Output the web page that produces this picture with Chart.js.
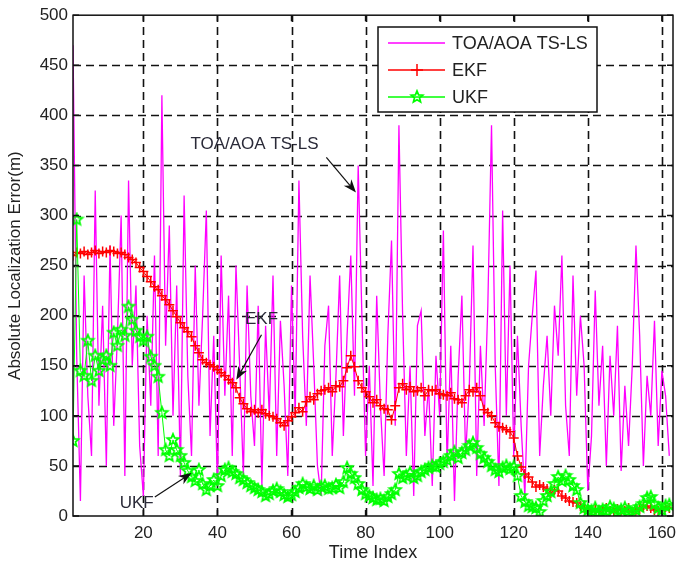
<!DOCTYPE html>
<html>
<head>
<meta charset="utf-8">
<script src="https://cdn.jsdelivr.net/npm/chart.js@4.4.1/dist/chart.umd.min.js"></script>
<style>
  html, body { margin: 0; padding: 0; background: #fff; }
  #wrap { width: 680px; height: 566px; position: relative; }
</style>
</head>
<body>
<div id="wrap"><canvas id="graphique" width="680" height="566"></canvas></div>
<script>
// Ticks des axes
const xTicks = [20, 40, 60, 80, 100, 120, 140, 160];
const yTicks = [0, 50, 100, 150, 200, 250, 300, 350, 400, 450, 500];

// Erreur absolue (m) par index de temps
const toaTsls = [
  470, 160, 15, 240, 120, 60, 325, 110, 210, 50,
  270, 90, 180, 300, 40, 335, 150, 230, 70, 20,
  200, 110, 260, 60, 420, 170, 290, 100, 230, 40,
  320, 140, 60, 250, 110, 200, 305, 80, 180, 30,
  260, 120, 220, 60, 250, 150, 40, 230, 120, 70,
  210, 30, 190, 100, 240, 60, 195, 130, 40, 230,
  100, 335, 180, 90, 240, 150, 50, 20, 170, 210,
  60, 140, 240, 80, 180, 260, 120, 350, 200, 60,
  150, 30, 220, 110, 40, 180, 275, 90, 390, 200,
  60, 150, 20, 190, 205, 80, 130, 30, 160, 100,
  285, 50, 170, 15, 140, 220, 60, 130, 270, 40,
  170, 90, 210, 390, 150, 30, 305, 100, 250, 60,
  180, 90, 20, 150, 200, 245, 60, 130, 180, 100,
  210, 160, 260, 110, 60, 240, 120, 200, 150, 25,
  80, 225, 110, 170, 50, 160, 100, 190, 45, 130,
  70, 150, 270, 180, 50, 140, 100, 195, 70, 145,
  120, 60
];
const ekf = [
  260, 263, 262, 264, 261, 263, 265, 262, 264, 263,
  265, 264, 262, 263, 261, 258, 256, 253, 248, 244,
  239, 234, 229, 226, 220, 216, 211, 205, 199, 193,
  188, 184, 179, 170, 163, 156, 153, 151, 149, 146,
  143, 140, 136, 133, 128, 118, 112, 107, 104, 106,
  103, 106, 102, 100, 99, 97, 93, 90, 95, 99,
  103, 108, 104, 114, 119, 116, 122, 125, 126, 128,
  124, 130, 129, 135, 148, 160, 149, 135, 128, 124,
  119, 113, 116, 110, 107, 106, 96, 110, 128, 132,
  126, 129, 124, 125, 128, 120, 126, 125, 126, 122,
  121, 120, 123, 117, 116, 113, 120, 126, 124, 128,
  120, 106, 103, 100, 93, 89, 88, 86, 84, 78,
  60, 49, 42, 39, 34, 29, 31, 29, 27, 23,
  26, 25, 20, 18, 15, 14, 13, 10, 8, 6,
  5, 7, 4, 6, 8, 5, 4, 7, 6, 5,
  8, 4, 6, 7, 9, 10, 8, 6, 5, 7,
  9, 8
];
const ukf = [
  75, 296, 145, 140, 175, 135, 160, 145, 156, 160,
  150, 183, 170, 186, 180, 209, 196, 185, 179, 175,
  179, 159, 150, 139, 103, 66, 60, 76, 66, 60,
  53, 45, 39, 35, 46, 32, 26, 30, 36, 30,
  40, 46, 48, 44, 42, 38, 36, 33, 30, 28,
  26, 24, 20, 22, 25, 27, 24, 21, 19, 21,
  24, 28, 32, 29, 27, 30, 26, 29, 30, 27,
  28, 31, 28, 34, 48, 42, 38, 32, 26, 22,
  20, 18, 16, 17, 15, 19, 22, 26, 42, 38,
  40, 43, 38, 40, 44, 46, 48, 50, 49, 52,
  54, 56, 60, 64, 58, 63, 66, 70, 73, 68,
  62, 58, 54, 50, 46, 44, 48, 50, 47, 49,
  40, 20, 14, 10, 9, 8, 4, 15, 20, 24,
  32, 39, 35, 40, 36, 30, 26, 13, 8, 6,
  5, 8, 4, 6, 5, 9, 7, 4, 6, 8,
  5, 3, 6, 9, 12, 18, 19, 12, 8, 6,
  10, 11
];

const police = '"Liberation Sans", Arial, Helvetica, sans-serif';
const couleurTexte = '#222';

// index de temps 1..n
function versPoints(valeurs) {
  return valeurs.map((v, i) => ({ x: i + 1, y: v }));
}

// Etoile à 5 branches (marqueur UKF)
function creerEtoile(couleur, r) {
  const c = document.createElement('canvas');
  const s = Math.ceil(2 * r + 4);
  c.width = s; c.height = s;
  const g = c.getContext('2d');
  g.strokeStyle = couleur;
  g.lineWidth = 1.8;
  g.beginPath();
  for (let k = 0; k < 10; k++) {
    const ang = -Math.PI / 2 + k * Math.PI / 5;
    const rr = k % 2 ? r * 0.45 : r;
    g.lineTo(s / 2 + rr * Math.cos(ang), s / 2 + rr * Math.sin(ang));
  }
  g.closePath();
  g.stroke();
  return c;
}
const etoile = creerEtoile('#00ff00', 6);

// Textes + flèches (coordonnées en unités des axes)
const annotations = [
  { texte: 'TOA/AOA TS-LS', tx: 50.0, ty: 371, de: [69.4, 358], vers: [77.4, 323] },
  { texte: 'EKF', tx: 51.9, ty: 196, de: [51.9, 181], vers: [45.1, 136] },
  { texte: 'UKF', tx: 18.2, ty: 13, de: [23.1, 19], vers: [33.0, 43] }
];

// Grille pointillée sous les courbes
const grille = {
  id: 'grille',
  beforeDatasetsDraw(chart) {
    const { ctx, chartArea: a, scales: { x, y } } = chart;
    ctx.save();
    ctx.strokeStyle = '#111';
    ctx.lineWidth = 1.6;
    ctx.setLineDash([8, 5]);
    xTicks.forEach(t => {
      const px = Math.round(x.getPixelForValue(t)) + 0.5;
      ctx.beginPath(); ctx.moveTo(px, a.bottom); ctx.lineTo(px, a.top); ctx.stroke();
    });
    yTicks.forEach(t => {
      if (t === 0 || t === 500) return;
      const py = Math.round(y.getPixelForValue(t)) + 0.5;
      ctx.beginPath(); ctx.moveTo(a.left, py); ctx.lineTo(a.right, py); ctx.stroke();
    });
    ctx.restore();
  }
};

function fleche(ctx, x1, y1, x2, y2) {
  const ang = Math.atan2(y2 - y1, x2 - x1);
  const L = 13, W = 5;
  ctx.beginPath();
  ctx.moveTo(x1, y1);
  ctx.lineTo(x2 - L * 0.7 * Math.cos(ang), y2 - L * 0.7 * Math.sin(ang));
  ctx.stroke();
  ctx.beginPath();
  ctx.moveTo(x2, y2);
  ctx.lineTo(x2 - L * Math.cos(ang) + W * Math.sin(ang), y2 - L * Math.sin(ang) - W * Math.cos(ang));
  ctx.lineTo(x2 - L * 0.7 * Math.cos(ang), y2 - L * 0.7 * Math.sin(ang));
  ctx.lineTo(x2 - L * Math.cos(ang) - W * Math.sin(ang), y2 - L * Math.sin(ang) + W * Math.cos(ang));
  ctx.closePath();
  ctx.fill();
}

// Cadre, petits ticks, annotations et légende
const cadre = {
  id: 'cadre',
  afterDatasetsDraw(chart) {
    const { ctx, chartArea: a, scales: { x, y } } = chart;
    ctx.save();
    ctx.strokeStyle = '#111';
    ctx.fillStyle = '#111';
    ctx.lineWidth = 1.5;
    ctx.setLineDash([]);
    ctx.strokeRect(a.left, a.top, a.right - a.left, a.bottom - a.top);
    const tl = 6;
    xTicks.forEach(t => {
      const px = x.getPixelForValue(t);
      ctx.beginPath();
      ctx.moveTo(px, a.bottom); ctx.lineTo(px, a.bottom - tl);
      ctx.moveTo(px, a.top); ctx.lineTo(px, a.top + tl);
      ctx.stroke();
    });
    yTicks.forEach(t => {
      const py = y.getPixelForValue(t);
      ctx.beginPath();
      ctx.moveTo(a.left, py); ctx.lineTo(a.left + tl, py);
      ctx.moveTo(a.right, py); ctx.lineTo(a.right - tl, py);
      ctx.stroke();
    });

    // annotations
    ctx.font = '17px ' + police;
    ctx.textAlign = 'center';
    ctx.textBaseline = 'middle';
    annotations.forEach(an => {
      ctx.fillStyle = '#2a2a38';
      ctx.fillText(an.texte, x.getPixelForValue(an.tx), y.getPixelForValue(an.ty));
      ctx.strokeStyle = '#111';
      ctx.fillStyle = '#111';
      ctx.lineWidth = 1.2;
      fleche(ctx,
        x.getPixelForValue(an.de[0]), y.getPixelForValue(an.de[1]),
        x.getPixelForValue(an.vers[0]), y.getPixelForValue(an.vers[1]));
    });

    // légende
    const lx = 378, ly = 27, lw = 219, lh = 85;
    ctx.fillStyle = '#fff';
    ctx.fillRect(lx, ly, lw, lh);
    ctx.strokeStyle = '#111';
    ctx.lineWidth = 1.5;
    ctx.strokeRect(lx, ly, lw, lh);
    const entrees = chart.data.datasets;
    const lignesY = [43, 70, 97];
    ctx.font = '18px ' + police;
    ctx.textAlign = 'left';
    entrees.forEach((ds, i) => {
      const yy = lignesY[i];
      ctx.strokeStyle = ds.borderColor;
      ctx.lineWidth = 1.5;
      ctx.beginPath(); ctx.moveTo(388, yy); ctx.lineTo(445, yy); ctx.stroke();
      if (ds.pointStyle === 'cross') {
        ctx.beginPath();
        ctx.moveTo(417, yy - 6); ctx.lineTo(417, yy + 6);
        ctx.moveTo(411, yy); ctx.lineTo(423, yy);
        ctx.stroke();
      } else if (ds.pointStyle instanceof HTMLCanvasElement) {
        const im = ds.pointStyle;
        ctx.drawImage(im, 417 - im.width / 2, yy - im.height / 2);
      }
      ctx.fillStyle = couleurTexte;
      ctx.fillText(ds.label, 452, yy + 1);
    });
    ctx.restore();
  }
};

new Chart(document.getElementById('graphique'), {
  type: 'line',
  data: {
    datasets: [
      {
        label: 'TOA/AOA TS-LS',
        data: versPoints(toaTsls),
        borderColor: '#ff00ff',
        borderWidth: 1.3,
        pointRadius: 0,
        tension: 0,
        order: 3
      },
      {
        label: 'EKF',
        data: versPoints(ekf),
        borderColor: '#ff0000',
        borderWidth: 1,
        pointStyle: 'cross',
        pointRadius: 5,
        pointBorderWidth: 1.5,
        pointBorderColor: '#ff0000',
        tension: 0,
        order: 2
      },
      {
        label: 'UKF',
        data: versPoints(ukf),
        borderColor: '#00ff00',
        borderWidth: 1,
        pointStyle: etoile,
        pointRadius: 6,
        tension: 0,
        order: 1
      }
    ]
  },
  options: {
    responsive: false,
    animation: false,
    devicePixelRatio: 1,
    layout: { padding: { left: 0, right: 0, top: 15, bottom: 0 } },
    plugins: {
      legend: { display: false },
      tooltip: { enabled: false }
    },
    scales: {
      x: {
        type: 'linear',
        min: 1,
        max: 163,
        afterBuildTicks: s => { s.ticks = xTicks.map(v => ({ value: v })); },
        afterFit: s => { s.height = 50; s.paddingRight = 5; },
        grid: { display: false, drawTicks: false },
        border: { display: false },
        ticks: {
          padding: 7,
          autoSkip: false,
          maxRotation: 0,
          color: couleurTexte,
          font: { family: police, size: 17 }
        },
        title: {
          display: true,
          text: 'Time Index',
          color: couleurTexte,
          font: { family: police, size: 18 },
          padding: { top: 0, bottom: 2 }
        }
      },
      y: {
        min: 0,
        max: 500,
        afterBuildTicks: s => { s.ticks = yTicks.map(v => ({ value: v })); },
        afterFit: s => { s.width = 73; },
        grid: { display: false, drawTicks: false },
        border: { display: false },
        ticks: {
          padding: 5,
          color: couleurTexte,
          font: { family: police, size: 17 }
        },
        title: {
          display: true,
          text: 'Absolute Localization Error(m)',
          color: couleurTexte,
          font: { family: police, size: 17 },
          padding: { top: 5, bottom: 0 }
        }
      }
    }
  },
  plugins: [grille, cadre]
});
</script>
</body>
</html>
